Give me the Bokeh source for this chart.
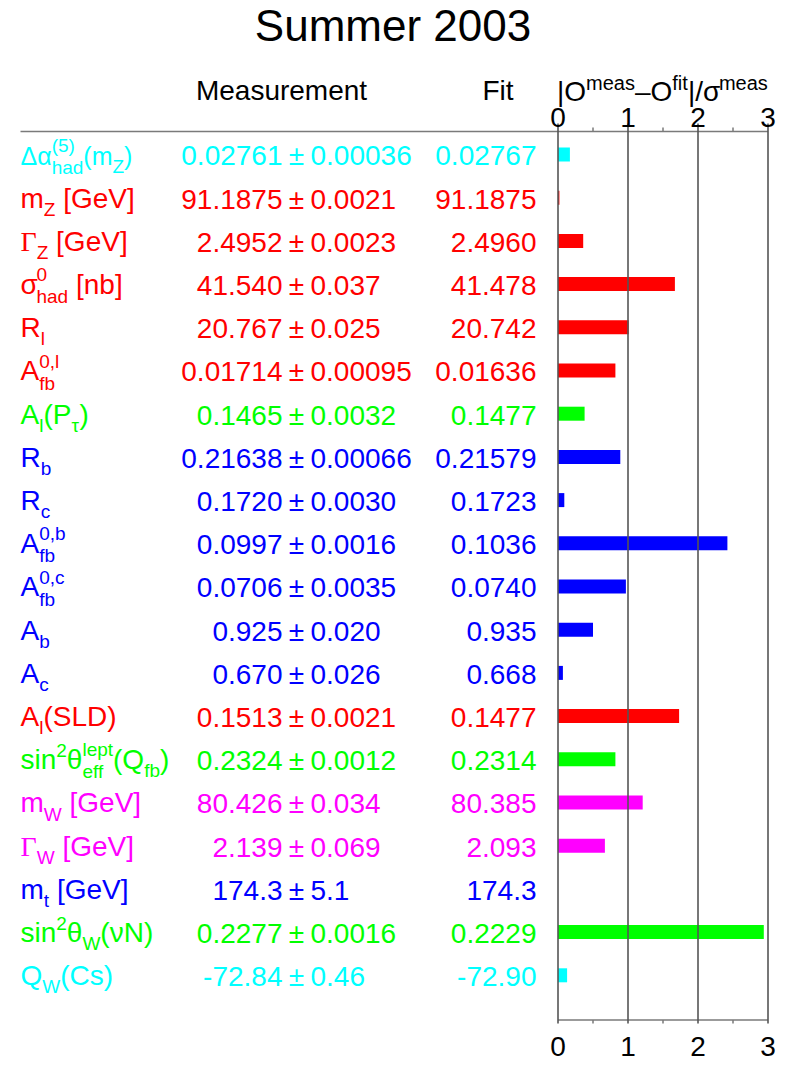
from bokeh.plotting import figure
from bokeh.models import Range1d, ColumnDataSource
from bokeh.core.properties import value
from bokeh.embed import file_html
from bokeh.resources import INLINE

# ---------------- data ----------------
title_text = "Summer 2003"
header_measurement = "Measurement"
header_fit = "Fit"

# observable labels: pieces (kind, text); kinds: n normal, g greek serif,
# sub subscript, sup superscript, ss stacked (sup, sub)
label_parts = [
    [("n", "Δα"), ("ss", ("(5)", "had")), ("n", "(m"), ("sub", "Z"), ("n", ")")],
    [("n", "m"), ("sub", "Z"), ("n", " [GeV]")],
    [("g", "Γ"), ("sub", "Z"), ("n", " [GeV]")],
    [("n", "σ"), ("ss", ("0", "had")), ("n", " [nb]")],
    [("n", "R"), ("sub", "l")],
    [("n", "A"), ("ss", ("0,l", "fb"))],
    [("n", "A"), ("sub", "l"), ("n", "(P"), ("sub", "τ"), ("n", ")")],
    [("n", "R"), ("sub", "b")],
    [("n", "R"), ("sub", "c")],
    [("n", "A"), ("ss", ("0,b", "fb"))],
    [("n", "A"), ("ss", ("0,c", "fb"))],
    [("n", "A"), ("sub", "b")],
    [("n", "A"), ("sub", "c")],
    [("n", "A"), ("sub", "l"), ("n", "(SLD)")],
    [("n", "sin"), ("sup", "2"), ("n", "θ"), ("ss", ("lept", "eff")), ("n", "(Q"), ("sub", "fb"), ("n", ")")],
    [("n", "m"), ("sub", "W"), ("n", " [GeV]")],
    [("g", "Γ"), ("sub", "W"), ("n", " [GeV]")],
    [("n", "m"), ("sub", "t"), ("n", " [GeV]")],
    [("n", "sin"), ("sup", "2"), ("n", "θ"), ("sub", "W"), ("n", "(νN)")],
    [("n", "Q"), ("sub", "W"), ("n", "(Cs)")],
]

measured = ["0.02761", "91.1875", "2.4952", "41.540", "20.767", "0.01714", "0.1465",
            "0.21638", "0.1720", "0.0997", "0.0706", "0.925", "0.670", "0.1513",
            "0.2324", "80.426", "2.139", "174.3", "0.2277", "-72.84"]
errors = ["0.00036", "0.0021", "0.0023", "0.037", "0.025", "0.00095", "0.0032",
          "0.00066", "0.0030", "0.0016", "0.0035", "0.020", "0.026", "0.0021",
          "0.0012", "0.034", "0.069", "5.1", "0.0016", "0.46"]
fitted = ["0.02767", "91.1875", "2.4960", "41.478", "20.742", "0.01636", "0.1477",
          "0.21579", "0.1723", "0.1036", "0.0740", "0.935", "0.668", "0.1477",
          "0.2314", "80.385", "2.093", "174.3", "0.2229", "-72.90"]
pulls = [0.17, 0.02, 0.36, 1.67, 1.01, 0.82, 0.38, 0.89, 0.09, 2.42, 0.97, 0.50,
         0.07, 1.73, 0.82, 1.21, 0.67, 0.00, 2.94, 0.13]

CYAN, RED, GREEN, BLUE, MAGENTA = "#00ffff", "#ff0000", "#00ff00", "#0000ff", "#ff00ff"
row_colors = [CYAN, RED, RED, RED, RED, RED, GREEN, BLUE, BLUE, BLUE, BLUE, BLUE,
              BLUE, RED, GREEN, MAGENTA, MAGENTA, BLUE, GREEN, CYAN]

tick_values = [0, 1, 2, 3]
tick_labels = ["0", "1", "2", "3"]
minor_tick_values = [0.5, 1.5, 2.5]

# ---------------- layout helpers ----------------
W, H = 791, 1068
X0, SX = 557.5, 70.0      # pixel of pull 0, pixels per unit
Y0, SY = 154.0, 43.2      # pixel of first row centre, pixels per row
BASE_SHIFT = 0.34         # correction of rendered baseline (fraction of font size)


def xd(px):
    return (px - X0) / SX


def yd(py):
    return (py - Y0) / SY


ARIAL = {' ': 278, '(': 333, ')': 333, '[': 278, ']': 278, ',': 278, '.': 278,
         '-': 333, '|': 260, '/': 278, '–': 556, '±': 549,
         'A': 667, 'C': 722, 'D': 722, 'G': 778, 'L': 556, 'N': 722, 'O': 778,
         'P': 667, 'Q': 778, 'R': 722, 'S': 667, 'V': 667, 'W': 944, 'Z': 611,
         'a': 556, 'b': 556, 'c': 500, 'd': 556, 'e': 556, 'f': 278, 'h': 556,
         'i': 222, 'l': 222, 'm': 833, 'n': 556, 'p': 556, 'r': 333, 's': 500,
         't': 278, 'u': 556, 'v': 500,
         'Δ': 668, 'α': 578, 'Γ': 578, 'σ': 571, 'τ': 425, 'θ': 556, 'ν': 500}
for d in "0123456789":
    ARIAL[d] = 556


def tw(s, size):
    return sum(ARIAL.get(c, 556) for c in s) / 1000.0 * size


SANS = "Liberation Sans"
SERIF = "Liberation Serif"
groups = {}


def put(px, py, txt, color, size, font=SANS, align="left"):
    stripped = txt.lstrip(" ")
    if align == "left":
        px += tw(txt[:len(txt) - len(stripped)], size)
    py = py - BASE_SHIFT * size
    key = (font, size, align)
    g = groups.setdefault(key, {"x": [], "y": [], "text": [], "color": []})
    g["x"].append(xd(px))
    g["y"].append(yd(py))
    g["text"].append(stripped)
    g["color"].append(color)


MAIN, SMALL = 28, 19
SUB_DY, SUP_DY = 8, -12
SS_SUB_DY, SS_SUP_DY = 9, -13


def layout_rich(parts, px, base, color, main=MAIN, small=SMALL):
    x = px
    for kind, t in parts:
        if kind == "n":
            put(x, base, t, color, main)
            x += tw(t, main)
        elif kind == "g":
            put(x, base, t, color, main, font=SERIF)
            x += tw(t, main)
        elif kind == "sub":
            put(x, base + SUB_DY, t, color, small)
            x += tw(t, small)
        elif kind == "sup":
            put(x, base + SUP_DY, t, color, small)
            x += tw(t, small)
        elif kind == "ss":
            sup, sub = t
            put(x, base + SS_SUP_DY, sup, color, small)
            put(x, base + SS_SUB_DY, sub, color, small)
            x += max(tw(sup, small), tw(sub, small))
    return x


# ---------------- figure ----------------
p = figure(width=W, height=H, x_range=Range1d(xd(0), xd(W)),
           y_range=Range1d(yd(H), yd(0)), output_backend="svg",
           toolbar_location=None, min_border=0, x_axis_location=None,
           y_axis_location=None, outline_line_color=None)
p.background_fill_color = "white"
p.border_fill_color = "white"
for g in p.grid:
    g.visible = False
p.center = [r for r in p.center if r.__class__.__name__ != "Grid"]

rows = list(range(len(pulls)))

# bars
bar_src = ColumnDataSource(dict(y=rows, right=pulls, left=[0] * len(pulls), color=row_colors))
p.hbar(y="y", left="left", right="right", height=14 / SY, fill_color="color",
       line_color=None, source=bar_src)

# axis / frame lines
AX_COL = "#555555"
p.segment(x0=[xd(20)], y0=[yd(131)], x1=[max(tick_values)], y1=[yd(131)],
          line_color="#7a7a7a", line_width=1.5)
p.segment(x0=[min(tick_values)], y0=[yd(1019.5)], x1=[max(tick_values)], y1=[yd(1019.5)],
          line_color="#7a7a7a", line_width=1.5)
p.segment(x0=tick_values, y0=[yd(123)] * len(tick_values), x1=tick_values,
          y1=[yd(1023)] * len(tick_values), line_color=AX_COL, line_width=1.6)
p.segment(x0=minor_tick_values, y0=[yd(127)] * 3, x1=minor_tick_values,
          y1=[yd(131)] * 3, line_color="#7a7a7a", line_width=1.5)
p.segment(x0=minor_tick_values, y0=[yd(1019.5)] * 3, x1=minor_tick_values,
          y1=[yd(1023)] * 3, line_color="#7a7a7a", line_width=1.5)

# tick labels
for v, lab in zip(tick_values, tick_labels):
    put(X0 + SX * v, 127, lab, "black", 28, align="center")
    put(X0 + SX * v, 1056, lab, "black", 28, align="center")

# title and headers
put(392.5, 40, title_text, "black", 44, align="center")
put(281, 100, header_measurement, "black", 28, align="center")
put(497.5, 100, header_fit, "black", 28, align="center")
layout_rich([("n", "|O"), ("sup", "meas"), ("n", "–O"), ("sup", "fit"), ("n", "|/σ"), ("sup", "meas")],
            556.5, 101, "black", main=28, small=20)

# table rows
row_main = {0: 25}
for i in rows:
    cy = Y0 + SY * i
    col = row_colors[i]
    layout_rich(label_parts[i], 20, cy + 10, col, main=row_main.get(i, MAIN))
    put(282, cy + 11, measured[i], col, MAIN, align="right")
    put(296, cy + 11, "±", col, MAIN, align="center")
    put(310, cy + 11, errors[i], col, MAIN, align="left")
    put(536, cy + 11, fitted[i], col, MAIN, align="right")

for (font, size, align), g in groups.items():
    src = ColumnDataSource(g)
    p.text(x="x", y="y", text="text", text_color="color", source=src,
           text_font=value(font), text_font_size=value(f"{size}px"),
           text_align=align, text_baseline="alphabetic")

open("out.html", "w").write(file_html(p, INLINE))
